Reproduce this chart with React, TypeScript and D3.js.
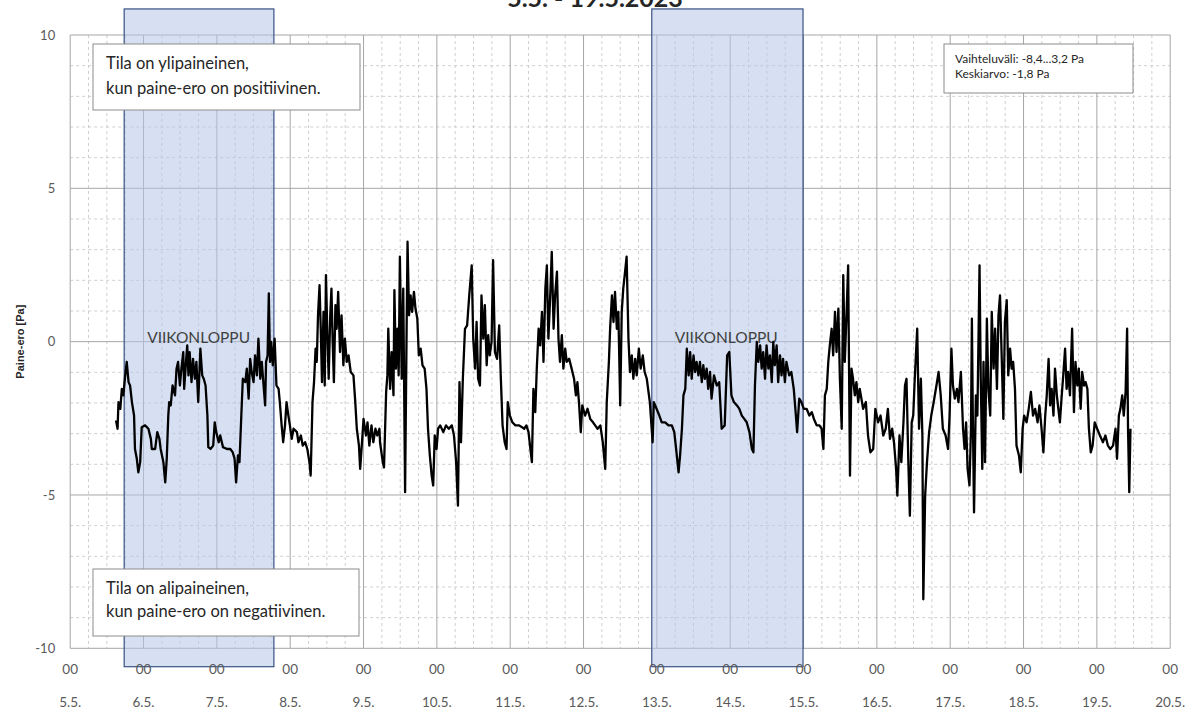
import React from "react";
import * as d3 from "d3";

// Paine-ero [Pa] kuvasta luettuna: [tunti vuorokauden alusta, arvo]
const may05: [number, number][] = [
  [15.0, -2.57], [15.5, -2.84], [15.8, -1.97], [16.4, -2.19], [16.9, -1.54], [17.4, -1.75],
  [18.0, -1.1], [18.5, -0.66], [19.1, -1.32], [19.6, -1.43], [20.2, -1.97], [20.9, -2.41],
  [21.2, -3.5], [21.8, -3.82], [22.3, -4.26], [22.9, -3.93], [23.4, -2.79],
];
const may06: [number, number][] = [
  [0.5, -2.73], [1.6, -2.84], [2.4, -3.17], [2.7, -3.5], [3.8, -3.5], [4.5, -2.95], [5.2, -3.17],
  [5.6, -3.5], [6.5, -3.93], [7.1, -4.59], [7.6, -3.82], [8.1, -2.41], [8.4, -1.97], [8.9, -2.08],
  [9.5, -1.43], [10.3, -1.75], [10.8, -0.88], [11.3, -0.66], [11.9, -1.43], [12.4, -0.88],
  [13.0, -0.34], [13.3, -1.54], [13.9, -0.66], [14.3, -0.12], [14.7, -1.1], [15.1, -0.34],
  [15.7, -1.32], [16.2, -0.56], [16.8, -1.21], [17.3, -0.66], [17.9, -1.97], [18.6, -0.23],
  [19.2, -1.1], [19.7, -1.21], [20.3, -1.43], [20.9, -2.41], [21.2, -3.44], [21.9, -3.5],
  [22.8, -3.39], [23.3, -2.63], [23.8, -2.95],
];
const may07: [number, number][] = [
  [0.6, -3.28], [1.1, -3.06], [2.0, -3.44], [3.3, -3.5], [4.4, -3.5], [5.2, -3.61], [5.8, -3.82],
  [6.3, -4.59], [6.9, -3.71], [7.4, -3.93], [8.0, -2.41], [8.5, -1.21], [9.3, -1.32], [9.8, -0.88],
  [10.4, -1.86], [10.9, -0.56], [11.4, -0.99], [12.0, -1.32], [12.5, -0.45], [13.1, -1.1],
  [13.6, 0.1], [14.2, -1.21], [14.7, -0.66], [15.2, -1.32], [15.8, -2.08], [16.1, -0.66],
  [16.6, -0.45], [17.0, 1.57], [17.4, -0.66], [17.8, -0.01], [18.3, -0.77], [18.9, 0.1],
  [19.5, -1.43], [20.2, -1.54], [20.6, -1.97], [21.2, -2.73], [21.7, -3.28], [22.3, -2.73],
  [22.8, -1.97], [23.4, -2.41], [23.9, -2.73],
];
const may08: [number, number][] = [
  [0.5, -3.17], [1.1, -2.84], [2.2, -2.95], [2.7, -3.28], [3.5, -3.06], [4.1, -3.39], [4.9, -3.28],
  [5.6, -3.5], [6.3, -3.93], [6.7, -4.37], [7.3, -1.97], [7.8, -1.32], [8.3, -0.23], [8.7, -0.66],
  [9.1, 0.86], [9.6, 1.84], [10.0, 0.42], [10.4, -1.32], [10.9, 0.97], [11.3, -1.43], [11.7, 2.17],
  [12.2, 0.1], [12.6, -1.21], [13.1, 0.86], [13.5, 1.73], [13.9, -0.01], [14.3, -1.32],
  [14.8, 1.19], [15.2, 0.42], [15.7, 1.62], [16.3, -0.34], [16.8, 0.86], [17.4, -0.77],
  [17.9, 0.1], [18.5, -0.66], [19.1, -0.45], [19.8, -0.99], [20.7, -1.1], [21.3, -1.97],
  [21.8, -2.84], [22.5, -3.39], [22.9, -4.15], [23.5, -3.28],
];
const may09: [number, number][] = [
  [0.0, -2.52], [0.8, -3.06], [1.3, -2.63], [1.9, -3.39], [2.6, -2.73], [3.2, -3.28], [3.9, -2.84],
  [4.5, -3.06], [5.2, -2.84], [5.4, -3.28], [6.3, -3.93], [6.7, -4.1], [7.4, -1.64], [7.8, -1.1],
  [8.1, 0.42], [8.7, -1.54], [9.2, -0.34], [9.8, -1.75], [10.1, 1.68], [10.6, -0.88], [11.1, 0.42],
  [11.5, -1.1], [11.9, 2.77], [12.5, -1.21], [13.0, 1.73], [13.6, -4.91], [14.1, 0.42],
  [14.4, 3.26], [14.9, 0.86], [15.4, 1.51], [15.9, 0.97], [16.5, 1.62], [17.0, 1.08], [17.6, 0.75],
  [18.1, -0.45], [18.7, -0.23], [19.3, -0.77], [20.0, -0.88], [20.6, -1.54], [21.1, -2.84],
  [21.7, -3.71], [22.3, -4.37], [22.8, -4.69], [23.3, -3.06], [23.9, -3.5],
];
const may10: [number, number][] = [
  [0.4, -2.84], [1.1, -2.73], [2.1, -2.95], [3.0, -2.73], [3.9, -2.84], [4.9, -2.73], [5.6, -3.06],
  [6.3, -3.93], [6.9, -5.35], [7.4, -1.32], [7.9, -3.28], [8.5, -1.21], [9.2, 0.42], [9.9, 0.53],
  [10.6, 1.51], [11.4, 2.49], [11.9, 0.1], [12.5, -0.88], [13.0, 0.64], [13.5, -1.21],
  [14.1, -1.43], [14.6, 1.51], [15.2, 0.1], [15.7, 1.19], [16.3, -0.77], [16.8, 0.21],
  [17.3, -0.45], [17.9, -0.01], [18.4, 2.66], [19.0, -0.34], [19.7, -0.56], [20.4, 0.53],
  [20.9, -1.1], [21.5, -2.73], [22.2, -3.28], [22.8, -3.5], [23.2, -1.97], [23.9, -2.41],
];
const may11: [number, number][] = [
  [0.7, -2.63], [1.7, -2.73], [2.8, -2.73], [3.9, -2.79], [4.6, -2.84], [5.3, -2.73], [6.0, -2.95],
  [6.6, -3.5], [7.1, -3.93], [7.6, -1.54], [8.2, -2.3], [8.7, -0.88], [9.3, 0.42], [9.8, -0.12],
  [10.4, 0.97], [10.9, -0.66], [11.5, 1.73], [12.0, 2.49], [12.5, 0.1], [13.1, 1.51], [13.6, 2.93],
  [14.2, 0.42], [14.7, 1.51], [15.3, 2.28], [15.8, 0.1], [16.3, -0.66], [16.9, 0.21], [17.4, -0.88],
  [18.0, -0.23], [18.5, -0.66], [19.3, -0.56], [20.1, -0.88], [20.9, -1.21], [21.5, -1.75],
  [22.0, -1.32], [22.5, -1.97], [23.1, -2.95], [23.6, -2.08],
];
const may12: [number, number][] = [
  [0.5, -2.41], [1.3, -2.19], [2.2, -2.52], [3.1, -2.63], [3.8, -2.73], [4.6, -2.84], [5.5, -2.73],
  [6.3, -3.28], [7.1, -4.15], [7.6, -1.97], [8.3, -0.66], [8.7, 0.42], [9.3, 1.51], [9.8, 0.64],
  [10.3, 1.62], [10.9, 0.42], [11.4, 0.97], [12.0, -2.08], [12.5, 0.97], [13.0, 1.73], [13.6, 2.28],
  [14.1, 2.77], [14.7, 0.1], [15.2, -0.99], [15.8, -0.45], [16.3, -1.21], [16.9, -0.56],
  [17.4, -1.1], [18.1, -0.23], [18.7, -0.88], [19.4, -0.45], [20.0, -0.99], [20.7, -1.21],
  [21.7, -1.97], [22.6, -3.28], [23.0, -1.97], [23.9, -2.19],
];
const may13: [number, number][] = [
  [0.8, -2.41], [1.6, -2.63], [2.7, -2.63], [3.8, -2.73], [4.9, -2.73], [5.7, -2.95], [6.3, -3.5],
  [7.1, -4.26], [7.6, -3.71], [8.2, -2.84], [8.7, -1.75], [9.3, -1.54], [9.8, -0.23], [10.4, -1.1],
  [10.9, -0.34], [11.4, -1.21], [12.0, -0.45], [12.5, -0.99], [13.0, -0.66], [13.6, -1.1],
  [14.1, -0.66], [14.7, -1.32], [15.2, -0.77], [15.7, -1.21], [16.3, -0.88], [16.8, -1.54],
  [17.4, -0.99], [17.9, -1.86], [18.7, -1.1], [19.6, -1.43], [20.4, -1.32], [21.2, -2.84],
  [22.2, -2.73], [23.0, -0.45], [23.7, -0.34],
];
const may14: [number, number][] = [
  [0.4, -1.75], [1.2, -1.97], [2.2, -2.08], [3.0, -2.19], [3.8, -2.41], [4.6, -2.52], [5.4, -2.63],
  [6.3, -2.95], [7.1, -3.5], [7.6, -3.61], [8.1, -1.43], [8.7, -0.01], [9.2, -0.66], [9.8, -0.12],
  [10.3, -0.88], [10.8, -0.34], [11.4, -1.21], [11.9, -0.12], [12.5, -0.88], [13.0, -0.45],
  [13.6, -1.32], [14.1, -0.01], [14.6, -0.77], [15.2, -0.12], [15.7, -1.32], [16.3, -0.45],
  [16.8, -1.1], [17.3, -0.56], [17.9, -1.32], [18.4, -0.66], [19.3, -1.1], [20.0, -0.99],
  [20.8, -1.54], [21.5, -2.41], [21.9, -2.95], [22.6, -1.86], [23.3, -1.97],
];
const may15: [number, number][] = [
  [0.1, -2.19], [1.0, -2.19], [1.9, -2.41], [2.7, -2.3], [3.4, -2.52], [4.3, -2.73], [5.2, -2.73],
  [5.9, -2.84], [6.5, -3.5], [7.0, -1.75], [7.6, -1.54], [8.1, -0.66], [8.6, -0.12], [9.2, 0.42],
  [9.7, -0.45], [10.3, 0.97], [10.8, -0.34], [11.4, 1.08], [11.9, -1.21], [12.5, -2.84],
  [13.0, 2.17], [13.5, -0.66], [14.1, 0.97], [14.6, 2.49], [15.2, -4.37], [15.7, -0.88],
  [16.2, -1.21], [16.8, -1.75], [17.3, -1.32], [17.9, -1.97], [18.4, -1.54], [19.5, -2.19],
  [20.4, -1.97], [21.1, -3.06], [21.9, -3.61], [22.8, -3.5], [23.5, -2.19],
];
const may16: [number, number][] = [
  [0.4, -2.63], [1.2, -2.41], [2.1, -3.06], [2.9, -2.84], [3.6, -2.19], [4.3, -3.17], [5.0, -2.84],
  [5.6, -3.28], [6.3, -4.15], [6.7, -5.02], [7.4, -3.06], [8.0, -3.93], [8.7, -2.63], [9.2, -1.43],
  [9.7, -1.21], [10.3, -3.93], [10.8, -5.68], [11.4, -2.63], [11.9, -2.41], [12.4, -1.21],
  [13.2, 0.42], [13.8, -2.84], [14.4, -1.21], [14.9, -3.06], [15.2, -8.4], [15.8, -5.02],
  [16.4, -3.93], [17.1, -2.95], [17.8, -2.41], [18.6, -1.97], [19.5, -1.43], [20.2, -0.99],
  [20.9, -1.75], [21.6, -2.84], [22.5, -3.06], [23.3, -3.5], [23.8, -2.41],
];
const may17: [number, number][] = [
  [0.4, -0.23], [0.9, -1.43], [1.5, -1.86], [2.2, -1.54], [2.7, -1.97], [3.5, -0.99], [4.2, -2.84],
  [4.7, -3.5], [5.2, -2.63], [5.7, -4.15], [6.3, -4.69], [6.8, -2.84], [7.1, 0.75], [7.4, -2.41],
  [7.8, -5.57], [8.4, -1.75], [8.9, -2.41], [9.6, 2.49], [10.0, -1.21], [10.5, -4.15], [10.9, -0.66],
  [11.4, -3.93], [12.0, 0.75], [12.5, -1.54], [13.1, -2.41], [13.6, 0.97], [14.2, -0.88],
  [14.7, 0.42], [15.3, -1.54], [15.8, 0.86], [16.3, 1.51], [16.9, -0.66], [17.4, -2.52],
  [17.9, 0.64], [18.5, 1.35], [19.0, -1.1], [19.6, -0.23], [20.1, -0.88], [20.6, -0.66],
  [21.2, -1.54], [21.7, -3.39], [22.5, -3.71], [23.1, -4.26], [23.7, -2.84],
];
const may18: [number, number][] = [
  [0.2, -2.41], [1.0, -2.63], [1.7, -2.19], [2.4, -1.64], [3.1, -2.41], [3.8, -2.19], [4.6, -2.63],
  [5.2, -2.08], [5.9, -2.84], [6.5, -3.61], [7.1, -2.41], [7.6, -1.75], [8.2, -0.56], [8.7, -2.08],
  [9.2, -1.54], [9.8, -2.41], [10.3, -0.88], [10.9, -1.75], [11.4, -2.19], [11.9, -2.63],
  [12.5, -1.75], [13.0, -1.1], [13.6, -0.23], [14.1, -1.54], [14.6, -0.99], [15.2, -1.75],
  [15.9, 0.42], [16.5, -2.3], [17.0, -0.66], [17.6, -1.43], [18.1, -0.88], [18.7, -2.19],
  [19.2, -0.99], [19.8, -1.43], [20.3, -1.32], [20.9, -1.54], [21.4, -2.84], [22.0, -3.61],
  [22.6, -3.39], [23.3, -2.63],
];
const may19: [number, number][] = [
  [0.1, -2.84], [1.0, -3.06], [2.0, -3.28], [2.8, -3.06], [3.6, -3.39], [4.4, -3.5], [5.3, -3.39],
  [6.1, -2.84], [6.6, -3.82], [7.2, -2.41], [7.7, -2.19], [8.3, -1.75], [8.8, -2.41], [9.4, -1.64],
  [9.9, 0.42], [10.2, -2.84], [10.6, -4.91], [11.0, -2.84],
];

const series = [may05, may06, may07, may08, may09, may10, may11, may12, may13, may14, may15, may16, may17, may18, may19];
const firstDay = new Date(2023, 4, 5);
const lastDay = new Date(2023, 4, 20);
const dayTicks = d3.range(5, 21); // 5.5. ... 20.5.
const yTicks = [-10, -5, 0, 5, 10];
const yMinorTicks = d3.range(-10, 11, 1);

// viikonloput (korostus)
const weekendFrom = [new Date(2023, 4, 5, 17, 40), new Date(2023, 4, 12, 22, 20)];
const weekendTo = [new Date(2023, 4, 7, 18, 40), new Date(2023, 4, 14, 23, 50)];
const weekendTop = 10.85;
const weekendBottom = -10.6;
const weekendLabel = "VIIKONLOPPU";

const title = "5.5. - 19.5.2023";
const yLabel = "Paine-ero [Pa]";
const infoLines = ["Vaihteluväli: -8,4...3,2 Pa", "Keskiarvo: -1,8 Pa"];
const overLines = ["Tila on ylipaineinen,", "kun paine-ero on positiivinen."];
const underLines = ["Tila on alipaineinen,", "kun paine-ero on negatiivinen."];

const W = 1197;
const H = 717;
const plot = { left: 70.2, right: 1170.2, top: 35, bottom: 648.3 };
const font = "Lato, 'Open Sans', sans-serif";

export default function App() {
  const x = d3.scaleTime().domain([firstDay, lastDay]).range([plot.left, plot.right]);
  const y = d3.scaleLinear().domain([-10, 10]).range([plot.bottom, plot.top]);

  const points = series.flatMap((day, i) =>
    day.map(([h, v]) => ({ t: new Date(2023, 4, 5 + i, 0, Math.round(h * 60)), v }))
  );
  const line = d3
    .line<{ t: Date; v: number }>()
    .x((d) => x(d.t))
    .y((d) => y(d.v));

  const sixHours = d3.timeHour
    .every(6)!
    .range(firstDay, lastDay)
    .filter((d) => d.getHours() !== 0);
  const days = dayTicks.map((d) => new Date(2023, 4, d));

  const textBox = (lines: string[], bx: number, by: number, bw: number, bh: number, size: number, gap: number, pad: number, base: number) => (
    <g>
      <rect x={bx} y={by} width={bw} height={bh} fill="#fff" stroke="#8c8c8c" strokeWidth={1} />
      {lines.map((s, i) => (
        <text key={i} x={bx + pad} y={by + base + i * gap} fontSize={size} fill="#262626" fontFamily={font}>
          {s}
        </text>
      ))}
    </g>
  );

  return (
    <div>
      <style>{"body{margin:0}"}</style>
      <svg width={W} height={H} style={{ display: "block", background: "#fff" }}>
        {/* apuviivat */}
        {yMinorTicks.filter((v) => v % 5 !== 0).map((v) => (
          <line key={"hm" + v} x1={plot.left} x2={plot.right} y1={y(v)} y2={y(v)} stroke="#cfcfcf" strokeDasharray="3,3" />
        ))}
        {sixHours.map((d, i) => (
          <line key={"vm" + i} x1={x(d)} x2={x(d)} y1={plot.top} y2={plot.bottom} stroke="#cfcfcf" strokeDasharray="3,3" />
        ))}
        {yTicks.map((v) => (
          <line key={"h" + v} x1={plot.left} x2={plot.right} y1={y(v)} y2={y(v)} stroke="#a6a6a6" />
        ))}
        {days.map((d, i) => (
          <line key={"v" + i} x1={x(d)} x2={x(d)} y1={plot.top} y2={plot.bottom} stroke="#a6a6a6" />
        ))}

        {/* viikonloput */}
        {weekendFrom.map((d, i) => (
          <g key={"we" + i}>
            <rect
              x={x(d)}
              y={y(weekendTop)}
              width={x(weekendTo[i]) - x(d)}
              height={y(weekendBottom) - y(weekendTop)}
              fill="#b4c7e7"
              fillOpacity={0.55}
              stroke="#3a5283"
              strokeWidth={1.2}
            />
            <text x={x(d) + 23} y={y(0) + 1} fontSize={15.5} fill="#404040" fontFamily={font}>
              {weekendLabel}
            </text>
          </g>
        ))}

        <path d={line(points) ?? ""} fill="none" stroke="#000" strokeWidth={2.3} strokeLinejoin="round" />

        {/* y-akseli */}
        {yTicks.map((v) => (
          <text key={"yt" + v} x={plot.left - 15} y={y(v)} dy="0.35em" textAnchor="end" fontSize={13} fill="#595959" fontFamily={font}>
            {v}
          </text>
        ))}
        <text
          transform={`translate(20,${(plot.top + plot.bottom) / 2}) rotate(-90)`}
          textAnchor="middle"
          dy="0.35em"
          fontSize={11}
          fontWeight="bold"
          fill="#262626"
          fontFamily="'Liberation Sans', Arial, sans-serif"
        >
          {yLabel}
        </text>

        {/* x-akseli */}
        {days.map((d, i) => (
          <g key={"xt" + i}>
            <text x={x(d)} y={plot.bottom + 26} textAnchor="middle" fontSize={13.5} fill="#595959" fontFamily={font}>
              00
            </text>
            <text x={x(d)} y={plot.bottom + 59} textAnchor="middle" fontSize={13.5} fill="#595959" fontFamily={font}>
              {dayTicks[i] + ".5."}
            </text>
          </g>
        ))}

        {textBox(overLines, 93, 44, 267, 66, 16.5, 25, 13, 25)}
        {textBox(underLines, 93, 569, 266, 67, 16.5, 23, 13, 25)}
        {textBox(infoLines, 944, 44, 189, 49, 12, 15, 11, 19)}

        <text x={595} y={7} textAnchor="middle" fontSize={25} fontWeight="bold" fill="#262626" fontFamily={font}>
          {title}
        </text>
      </svg>
    </div>
  );
}
